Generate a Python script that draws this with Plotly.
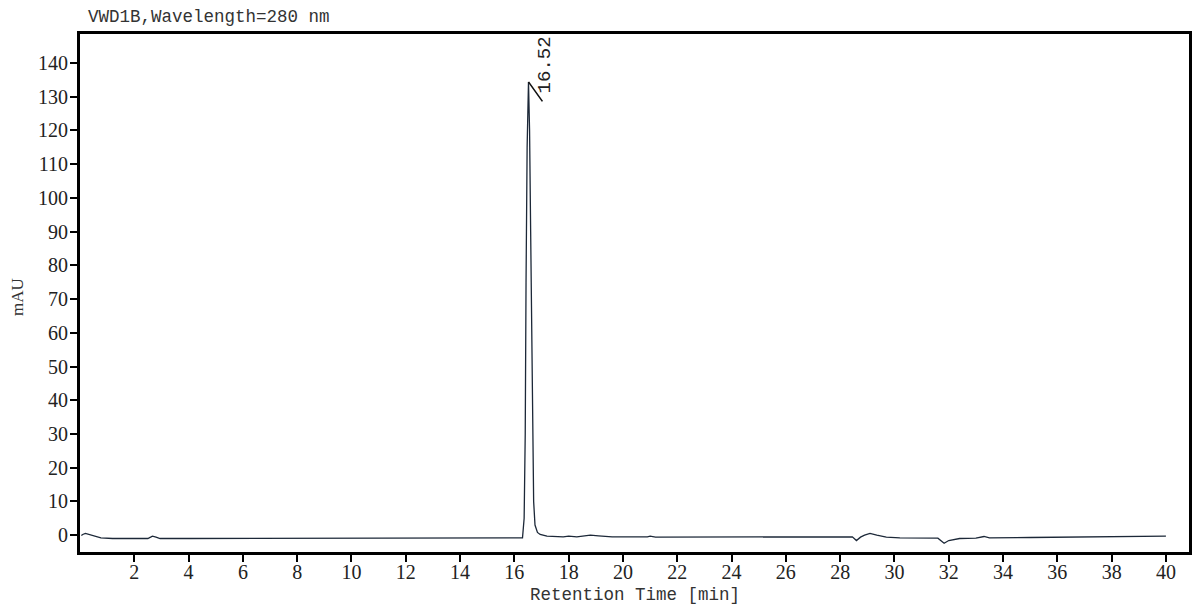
import plotly.graph_objects as go

# chromatogram trace (time in min, signal in mAU)
time_min = [0.05, 0.1, 0.2, 0.35, 0.55, 0.77, 1.2, 2.0, 2.5, 2.6, 2.67, 2.8, 2.95, 4.0, 8.0,
            12.0, 15.0, 16.0, 16.30, 16.36, 16.40, 16.43, 16.47, 16.52, 16.56, 16.60,
            16.63, 16.67, 16.71, 16.76, 16.85, 16.95, 17.2, 17.8, 18.0, 18.3, 18.6,
            18.8, 19.1, 19.6, 20.9, 21.0, 21.2, 24.0, 28.0, 28.45, 28.6, 28.75, 28.9,
            29.1, 29.35, 29.7, 30.2, 31.0, 31.6, 31.83, 32.0, 32.4, 33.0, 33.3, 33.5,
            35.0, 37.0, 39.0, 40.0]
signal_mau = [-0.1, 0.2, 0.5, 0.1, -0.4, -0.8, -1.0, -1.0, -1.0, -0.6, -0.3, -0.6, -1.0, -1.0,
              -1.0, -1.0, -0.9, -0.8, -0.8, 5.0, 30.0, 75.0, 115.0, 134.4, 120.0, 90.0,
              70.0, 35.0, 10.0, 3.0, 0.8, 0.2, -0.3, -0.5, -0.3, -0.5, -0.3, 0.0,
              -0.2, -0.5, -0.5, -0.3, -0.6, -0.6, -0.5, -0.5, -1.6, -0.6, 0.0,
              0.5, 0.0, -0.6, -0.8, -0.8, -0.9, -2.4, -1.6, -1.0, -0.9, -0.4, -0.8,
              -0.7, -0.6, -0.4, -0.3]

peak_time = 16.52
peak_height = 134.4
peak_label = "16.52"

x_ticks = list(range(2, 41, 2))
y_ticks = list(range(0, 141, 10))

fig = go.Figure()
fig.add_trace(go.Scatter(
    x=time_min, y=signal_mau, mode="lines",
    line=dict(color="#1c2838", width=1.3),
    showlegend=False, hoverinfo="skip"
))

# peak marker tick and retention time label
fig.add_annotation(
    x=peak_time, y=peak_height, text="", showarrow=True,
    arrowhead=0, arrowwidth=1.6, arrowcolor="#111111",
    ax=15, ay=21, standoff=0
)
fig.add_annotation(
    x=peak_time, y=peak_height, text=peak_label, showarrow=False,
    textangle=-90, xanchor="center", yanchor="middle",
    xshift=16, yshift=17,
    font=dict(family="Liberation Mono", size=19, color="#222222")
)

# axis titles as paper annotations (page body adds an 8px offset)
fig.add_annotation(
    xref="paper", yref="paper", x=0.5, y=0, yshift=-43,
    xanchor="center", yanchor="middle", showarrow=False,
    text="Retention Time [min]",
    font=dict(family="Liberation Mono", size=17.5, color="#333333")
)
fig.add_annotation(
    xref="paper", yref="paper", x=0, y=0.5, xshift=-63, yshift=-4,
    xanchor="center", yanchor="middle", showarrow=False, textangle=-90,
    text="mAU",
    font=dict(family="Liberation Serif", size=17, color="#333333")
)

fig.update_layout(
    width=1184, height=601,
    margin=dict(l=72, r=3, t=26, b=57),
    paper_bgcolor="white", plot_bgcolor="white",
    title=dict(text="VWD1B,Wavelength=280 nm", x=80 / 1184, xanchor="left",
               y=1 - 8 / 601, yanchor="middle", pad=dict(l=0, t=0),
               font=dict(family="Liberation Mono", size=17.5, color="#333333")),
    xaxis=dict(
        range=[0, 40.85], tickvals=x_ticks, ticks="outside", ticklen=7, tickwidth=2,
        tickcolor="black", showline=True, linewidth=3, linecolor="black", mirror=True,
        showgrid=False, zeroline=False, automargin=False, ticklabelstandoff=-7,
        tickfont=dict(family="Liberation Serif", size=20, color="#222222"),
    ),
    yaxis=dict(
        range=[-5, 148.6], tickvals=y_ticks, ticks="outside", ticklen=7, tickwidth=2,
        tickcolor="black", showline=True, linewidth=3, linecolor="black", mirror=True,
        showgrid=False, zeroline=False, automargin=False, ticklabelstandoff=-2,
        tickfont=dict(family="Liberation Serif", size=20, color="#222222"),
    ),
)

fig.write_html("out.html")
